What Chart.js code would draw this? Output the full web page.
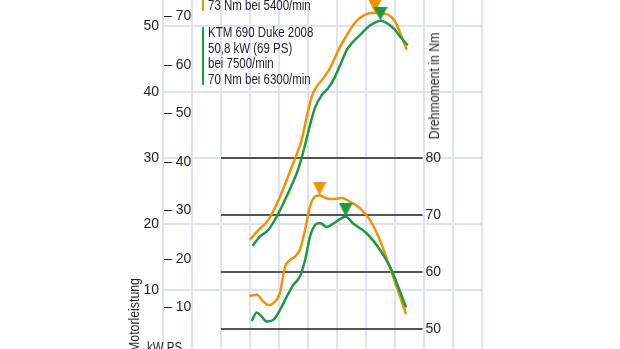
<!DOCTYPE html>
<html>
<head>
<meta charset="utf-8">
<script src="https://cdn.jsdelivr.net/npm/chart.js@4/dist/chart.umd.min.js"></script>
<style>
  html, body { margin: 0; padding: 0; background: #fff; }
  #wrap { position: relative; width: 620px; height: 349px; overflow: hidden; }
  #c { position: absolute; left: 0; top: 0; }
  .txt {
    position: absolute; white-space: nowrap; color: #231f20;
    font-family: "Liberation Sans", Arial, sans-serif;
    font-size: 14px; line-height: 15.5px;
    transform-origin: 0 0; transform: scaleX(0.82);
  }
  .bar { position: absolute; width: 2px; }
  .rot { transform-origin: 50% 50%; transform: translate(-50%, -50%) rotate(-90deg) scaleX(0.82); font-size: 15px; line-height: 16px; }
</style>
</head>
<body>
<div id="wrap">
  <canvas id="c" width="620" height="349"></canvas>
  <div class="bar" id="bar-orange" style="left:202px;top:0;height:11px;"></div>
  <div class="txt" id="legend-orange" style="left:208px;top:-2px;"></div>
  <div class="bar" id="bar-green" style="left:202px;top:27px;height:58px;"></div>
  <div class="txt" id="legend-green" style="left:208px;top:25px;"></div>
  <div class="txt rot" style="left:434px;top:86px;">Drehmoment in Nm</div>
  <div class="txt rot" style="left:134px;top:315px;">Motorleistung</div>
  <div class="txt" style="left:147px;top:340px;">kW PS</div>
</div>
<script>
// Dyno chart: power (kW / PS, left) and torque (Nm, right) over engine speed

const ORANGE = '#f39200';
const GREEN = '#1b9a3e';
const GRID = '#dfe2f4';
const INK = '#231f20';
Chart.defaults.font.family = '"Liberation Sans", Arial, sans-serif';
Chart.defaults.font.size = 14;
Chart.defaults.color = INK;

// axis ticks
const rpmGrid = [0, 1000, 2000, 3000, 4000, 5000, 6000, 7000, 8000, 9000, 10000, 11000];
const kwTicks = [10, 20, 30, 40, 50];
const psTicks = [10, 20, 30, 40, 50, 60, 70];
const nmTicks = [50, 60, 70, 80];
const torqueRefLines = [50, 60, 70, 80];

// legend text
const legendOrange = ['73 Nm bei 5400/min'];
const legendGreen = ['KTM 690 Duke 2008', '50,8 kW (69 PS)', 'bei 7500/min', '70 Nm bei 6300/min'];

// power curves (kW)
const rpmPowerOrange = [3000, 3340, 3580, 3800, 4030, 4270, 4490, 4780, 4960, 5130, 5300, 5530, 5760, 6100, 6340, 6620, 6850, 7080, 7310, 7540, 7770, 8000, 8230, 8400];
const kwOrange =       [17.6, 19.3, 20.3, 21.9, 24.1, 26.7, 29.2, 32.7, 36.3, 39.3, 40.8, 42.1, 43.6, 46.8, 48.6, 50.5, 51.4, 51.9, 52.0, 51.9, 51.7, 50.7, 48.4, 46.4];
const rpmPowerGreen = [3090, 3340, 3630, 3920, 4150, 4440, 4670, 4900, 5070, 5240, 5470, 5700, 5930, 6160, 6330, 6510, 6850, 7080, 7310, 7500, 7770, 8000, 8230, 8440];
const kwGreen =       [16.7, 18.1, 19.1, 21.1, 23.1, 25.9, 28.4, 32.0, 35.0, 37.6, 39.5, 40.6, 42.3, 44.6, 46.3, 47.4, 48.9, 49.9, 50.5, 50.8, 50.3, 49.4, 48.1, 47.1];

// torque curves (Nm)
const rpmTorqueOrange = [2980, 3230, 3460, 3630, 3800, 4030, 4210, 4380, 4550, 4720, 4900, 5070, 5240, 5400, 5650, 5930, 6160, 6450, 6790, 7140, 7480, 7770, 8060, 8380];
const nmOrange =        [55.8, 56.0, 54.8, 54.2, 54.5, 56.3, 60.9, 62.1, 62.7, 63.9, 67.4, 71.5, 73.2, 73.4, 72.9, 72.8, 73.0, 72.3, 71.2, 69.1, 65.6, 61.5, 57.4, 52.6];
const rpmTorqueGreen = [3060, 3230, 3400, 3580, 3800, 4030, 4270, 4490, 4720, 4900, 5070, 5240, 5410, 5650, 5870, 6300, 6560, 7020, 7480, 7830, 8110, 8380];
const nmGreen =        [51.4, 52.9, 52.2, 51.3, 51.6, 53.3, 55.7, 57.7, 59.2, 62.1, 66.2, 68.2, 68.6, 67.9, 68.5, 69.7, 68.5, 66.8, 63.9, 60.9, 57.4, 53.8];

// peak markers [orange, green]
const peakPowerRpm = [7310, 7500];
const peakPowerKw = [52.0, 50.8];
const peakTorqueRpm = [5400, 6300];
const peakTorqueNm = [73.4, 69.7];

// visible window of the original figure
const KW_MIN = 1.06, KW_MAX = 53.94;
const PS_PER_KW = 1.35962;
const NM_MIN = 46.49, NM_MAX = 107.72;
const REF_FROM = 2000, REF_TO = 8950;

document.getElementById('legend-orange').innerHTML = legendOrange.join('<br>');
document.getElementById('legend-green').innerHTML = legendGreen.join('<br>');
document.getElementById('bar-orange').style.background = ORANGE;
document.getElementById('bar-green').style.background = GREEN;

const pts = (xs, ys) => xs.map((x, i) => ({ x: x, y: ys[i] }));

// triangle pointing down, tip at the image centre
function downTriangle(color) {
  const c = document.createElement('canvas');
  c.width = 14; c.height = 28;
  const g = c.getContext('2d');
  g.fillStyle = color;
  g.beginPath(); g.moveTo(0, 0); g.lineTo(14, 0); g.lineTo(7, 14); g.closePath(); g.fill();
  return c;
}
const triOrange = downTriangle(ORANGE);
const triGreen = downTriangle(GREEN);

const fitWidth = w => s => { s.width = w; s.paddingTop = 0; s.paddingBottom = 0; };
const fixedTicks = list => s => { s.ticks = list.map(v => ({ value: v })); };

const curve = (data, color, axis, order) => ({
  data: data, yAxisID: axis, borderColor: color, borderWidth: 2.5,
  pointRadius: 0, cubicInterpolationMode: 'monotone', fill: false, order: order
});

const datasets = [];
torqueRefLines.forEach(v => {
  datasets.push({
    data: [{ x: REF_FROM, y: v }, { x: REF_TO, y: v }], yAxisID: 'nm',
    borderColor: '#1e1e1e', borderWidth: 1.5, pointRadius: 0, order: 5
  });
});
datasets.push(curve(pts(rpmPowerOrange, kwOrange), ORANGE, 'kw', 3));
datasets.push(curve(pts(rpmTorqueOrange, nmOrange), ORANGE, 'nm', 3));
datasets.push(curve(pts(rpmPowerGreen, kwGreen), GREEN, 'kw', 2));
datasets.push(curve(pts(rpmTorqueGreen, nmGreen), GREEN, 'nm', 2));
datasets.push({
  type: 'scatter', data: pts(peakPowerRpm, peakPowerKw), yAxisID: 'kw',
  pointStyle: [triOrange, triGreen], pointRadius: 7, order: 0
});
datasets.push({
  type: 'scatter', data: pts(peakTorqueRpm, peakTorqueNm), yAxisID: 'nm',
  pointStyle: [triOrange, triGreen], pointRadius: 7, order: 0
});

new Chart(document.getElementById('c'), {
  type: 'line',
  data: { datasets: datasets },
  options: {
    responsive: false, animation: false,
    layout: { padding: { left: 133, right: 138, top: 0, bottom: 0 }, autoPadding: false },
    plugins: { legend: { display: false }, tooltip: { enabled: false } },
    scales: {
      x: {
        type: 'linear', min: 0, max: 11000,
        afterBuildTicks: fixedTicks(rpmGrid),
        afterFit: s => { s.height = 0; s.paddingLeft = 0; s.paddingRight = 0; },
        grid: { color: GRID, lineWidth: 2, drawTicks: false },
        border: { display: false },
        ticks: { display: false }
      },
      kw: {
        type: 'linear', position: 'left', weight: 1, min: KW_MIN, max: KW_MAX,
        afterBuildTicks: fixedTicks(kwTicks), afterFit: fitWidth(30),
        grid: { color: GRID, lineWidth: 2, drawTicks: false },
        border: { display: false },
        ticks: { padding: 4, color: INK }
      },
      ps: {
        type: 'linear', position: 'left', weight: 0, min: KW_MIN * PS_PER_KW, max: KW_MAX * PS_PER_KW,
        afterBuildTicks: fixedTicks(psTicks), afterFit: fitWidth(0),
        grid: { display: false, drawTicks: false },
        border: { display: false },
        ticks: { mirror: true, padding: 1, color: INK, callback: v => '\u2013 ' + v }
      },
      nm: {
        type: 'linear', position: 'right', min: NM_MIN, max: NM_MAX,
        afterBuildTicks: fixedTicks(nmTicks), afterFit: fitWidth(0),
        grid: { display: false, drawTicks: false },
        border: { display: false },
        ticks: { mirror: true, padding: -41, color: INK }
      }
    }
  }
});
</script>
</body>
</html>
